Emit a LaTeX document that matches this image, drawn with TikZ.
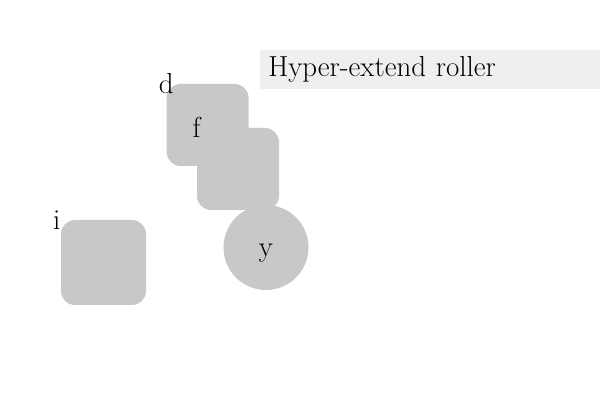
\documentclass[tikz,border=0pt]{standalone}
\usepackage{xcolor}
\definecolor{colorBlock}{HTML}{C8C8C8}
\definecolor{colorHeader}{HTML}{EFEFEF}
\usepackage{tikz}
\tikzset{block/.style={fill=colorBlock, rounded corners=0.35cm, minimum size=2.05cm, inner sep=0pt},
  tag/.style={inner sep=0pt, text height=0.475cm, text depth=0pt}}

\begin{document}
\begin{tikzpicture}[every node/.style={font=\fontsize{20.6}{24}\selectfont}]
\useasboundingbox (0,0) rectangle (15,10);
\node[fill=colorHeader, anchor=north west, minimum width=8.5cm, minimum height=0.975cm, inner xsep=0.2cm, text width=8.1cm, align=left] (hdr) at (6.5,8.75) {Hyper-extend roller};
\node[block] (d) at (5.19,6.875) {};
\node[block] (f) at (5.95,5.775) {};
\node[block, minimum size=2.125cm] (i) at (2.5875,3.4375) {};
\node[circle, fill=colorBlock, minimum size=2.125cm, tag] (y) at (6.65,3.8125) {y};
\node[tag] (ld) at (d.north west) {d};
\node[tag] (lf) at (f.north west) {f};
\node[tag, xshift=-0.1cm] (li) at (i.north west) {i};
\end{tikzpicture}
\end{document}
